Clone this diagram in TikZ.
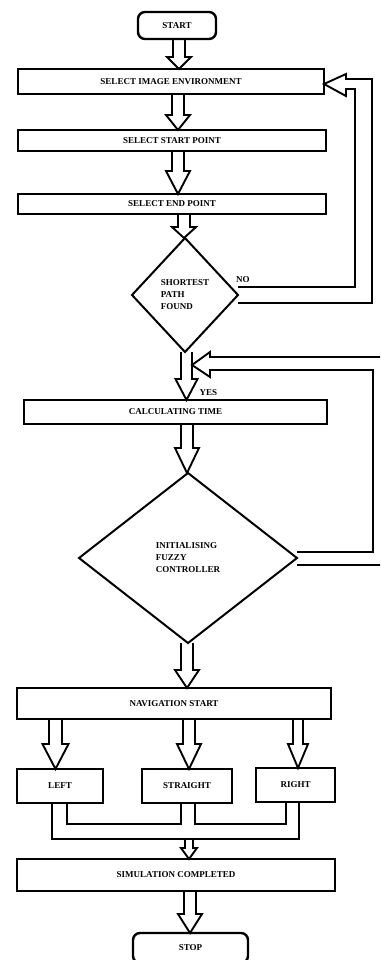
\documentclass[tikz,border=0pt]{standalone}
\usepackage{fontspec}
\setmainfont{Liberation Serif}
\usetikzlibrary{positioning,calc,shapes.geometric}
\tikzset{
  stepbox/.style={
    draw,
    line width=2.4pt,
    inner sep=0pt,
    outer sep=0pt,
    align=center,
    font=\fontsize{9}{12}\selectfont\bfseries
  },
  terminal/.style={stepbox, rounded corners=7pt},
  decision/.style={
    diamond,
    draw,
    line width=2pt,
    inner sep=0pt,
    outer sep=0pt,
    align=left,
    font=\fontsize{9}{12}\selectfont\bfseries
  },
  lbl/.style={inner sep=0pt, font=\fontsize{9}{12}\selectfont\bfseries},
  blockarrow/.style={line width=1.9pt, line join=miter}
}
% hollow down arrow: [half shaft] {axis x} {from} {to} {head length}
\newcommand\flowarrow[5][6]{%
  \draw[blockarrow] let \p1=(#3), \p2=(#4) in
    ({#2pt-#1pt},\y1) -- ({#2pt-#1pt},{\y2+#5pt}) -- ({#2pt-2*#1pt},{\y2+#5pt})
    -- (#2pt,\y2) -- ({#2pt+2*#1pt},{\y2+#5pt}) -- ({#2pt+#1pt},{\y2+#5pt})
    -- ({#2pt+#1pt},\y1);}

\begin{document}
\begin{tikzpicture}[x=1pt, y=-1pt]
  \useasboundingbox (0,0) rectangle (380,960);
  \clip (0,0) rectangle (380,960);

  \node[terminal, minimum width=78pt, minimum height=27pt] (start) at (177,25.5) {START};
  \node[stepbox, minimum width=306pt, minimum height=25pt, below=30pt of start, xshift=-6pt] (sie) {SELECT IMAGE ENVIRONMENT};
  \node[stepbox, minimum width=308pt, minimum height=21pt, below=36pt of sie, xshift=1pt] (ssp) {SELECT START POINT};
  \node[stepbox, minimum width=308pt, minimum height=20pt, below=43pt of ssp] (sep) {SELECT END POINT};
  \node[decision, minimum width=106pt, minimum height=114pt, below=24pt of sep, xshift=13pt] (shortest) {SHORTEST\\PATH\\FOUND};
  \node[stepbox, minimum width=303pt, minimum height=24pt, below=48pt of shortest, xshift=-9.5pt] (calc) {CALCULATING TIME};
  \node[decision, minimum width=218pt, minimum height=170pt, below=49pt of calc, xshift=12.5pt] (fuzzy) {INITIALISING\\FUZZY\\CONTROLLER};
  \node[stepbox, minimum width=314pt, minimum height=31pt, below=45pt of fuzzy, xshift=-14pt] (nav) {NAVIGATION START};
  \node[stepbox, minimum width=86pt, minimum height=34pt, below=50pt of nav, xshift=-114pt] (left) {LEFT};
  \node[stepbox, minimum width=90pt, minimum height=34pt, below=50pt of nav, xshift=13pt] (straight) {STRAIGHT};
  \node[stepbox, minimum width=79pt, minimum height=34pt, below=49pt of nav, xshift=121.5pt] (right) {RIGHT};
  \node[stepbox, minimum width=318pt, minimum height=32pt, below=56pt of straight, xshift=-11pt] (sim) {SIMULATION COMPLETED};
  \node[terminal, minimum width=115pt, minimum height=30pt, below=42pt of sim, xshift=14.5pt] (stop) {STOP};

  \node[lbl, above right=12pt and -2pt of shortest.east] (no) {NO};
  \node[lbl, above right=4pt and 24pt of calc.north] (yes) {YES};

  \coordinate (join) at (192,365);
  \coordinate (merge) at (189,839);

  \flowarrow{179}{start.south}{sie.north}{12}
  \flowarrow{178}{sie.south}{ssp.north}{15}
  \flowarrow{178}{ssp.south}{sep.north}{23}
  \flowarrow{184}{sep.south}{shortest.north}{11}
  \flowarrow[5.5]{186.5}{shortest.south}{calc.north}{21}
  \flowarrow{187}{calc.south}{fuzzy.north}{25}
  \flowarrow{187}{fuzzy.south}{nav.north}{18}
  \flowarrow[6.5]{55.5}{nav.south}{left.north}{25}
  \flowarrow{189}{nav.south}{straight.north}{25}
  \flowarrow[5]{298}{nav.south}{right.north}{24}
  \flowarrow[4]{189}{merge}{sim.north}{11}
  \flowarrow{190}{sim.south}{stop.north}{19}

  % NO: back to image environment
  \draw[blockarrow] let \p1=(shortest.east), \p2=(sie.east) in
    (\x1,\y1+8pt) -- (355pt,\y1+8pt) -- (355pt,\y2-7.5pt) -- (346pt,\y2-7.5pt)
    -- (346pt,\y2-14.5pt) -- (\x2,\y2-2.5pt) -- (346pt,\y2+7.5pt) -- (346pt,\y2+2.5pt)
    -- (372pt,\y2+2.5pt) -- (372pt,\y1-8pt) -- (\x1,\y1-8pt);

  % fuzzy controller loop
  \draw[blockarrow] let \p1=(fuzzy.east), \p2=(join) in
    (\x1,\y1+6pt) -- (373pt,\y1+6pt) -- (373pt,\y2-5pt) -- (210pt,\y2-5pt)
    -- (210pt,\y2-12pt) -- (\x2,\y2) -- (210pt,\y2+13pt) -- (210pt,\y2+8pt)
    -- (392pt,\y2+8pt) -- (392pt,\y1-7pt) -- (\x1,\y1-7pt);

  % merge of the three directions
  \draw[blockarrow] ([xshift=-8pt]left.south) -- ++(0,36) -| ([xshift=3.5pt]right.south);
  \draw[blockarrow] ([xshift=7pt]left.south) -- ++(0,21) -| ([xshift=-6pt]straight.south);
  \draw[blockarrow] ([xshift=8pt]straight.south) -- ++(0,21) -| ([xshift=-9.5pt]right.south);
\end{tikzpicture}
\end{document}
